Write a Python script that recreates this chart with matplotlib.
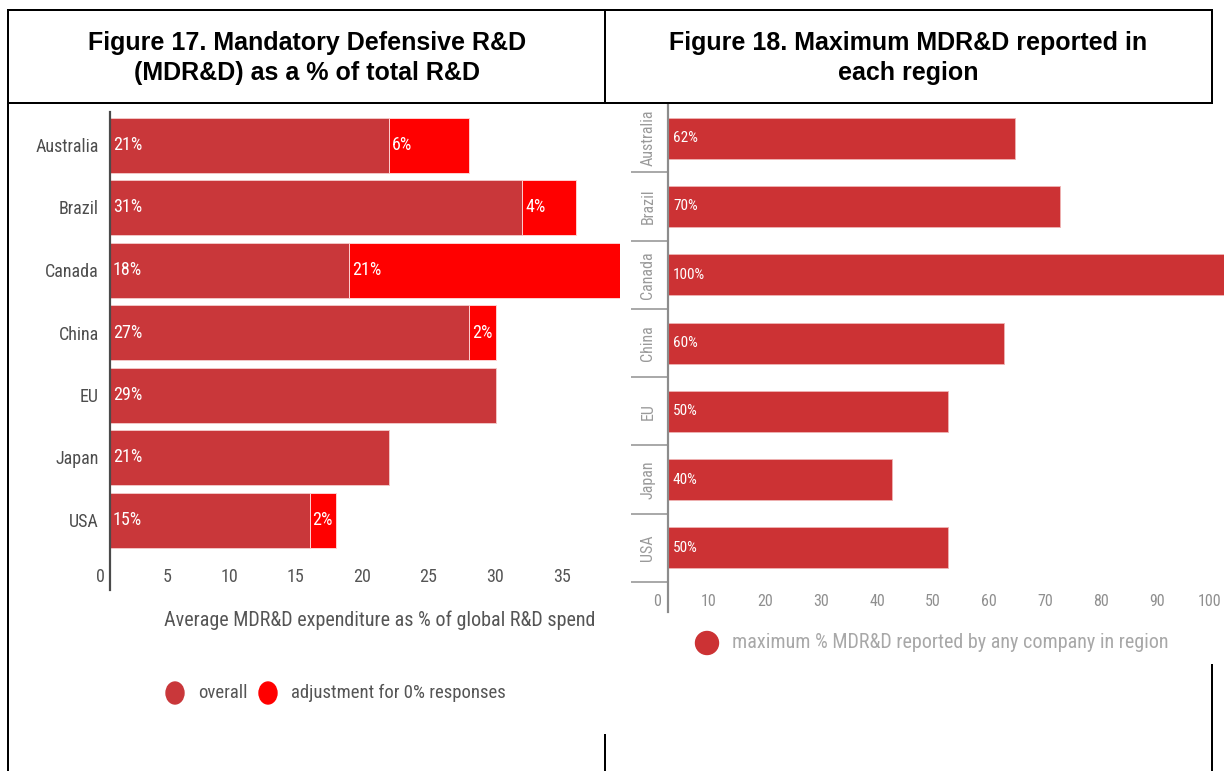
import matplotlib
matplotlib.use("Agg")
import matplotlib.pyplot as plt
from matplotlib import font_manager
from matplotlib.patches import Ellipse, Rectangle
from matplotlib.transforms import ScaledTranslation, blended_transform_factory

# ---- data -------------------------------------------------------------
regions = ["Australia", "Brazil", "Canada", "China", "EU", "Japan", "USA"]
overall_pct = [21, 31, 18, 27, 29, 21, 15]
zero_adjust_pct = [6, 4, 21, 2, 0, 0, 2]
max_reported_pct = [62, 70, 100, 60, 50, 40, 50]
avg_ticks = [0, 5, 10, 15, 20, 25, 30, 35, 40]
max_ticks = [0, 10, 20, 30, 40, 50, 60, 70, 80, 90, 100]

title_17 = ["Figure 17. Mandatory Defensive R&D", "(MDR&D) as a % of total R&D"]
title_18 = ["Figure 18. Maximum MDR&D reported in", "each region"]
avg_xlabel = "Average MDR&D expenditure as % of global R&D spend"
legend_17 = ["overall", "adjustment for 0% responses"]
legend_18 = "maximum % MDR&D reported by any company in region"

# ---- fonts / colours --------------------------------------------------
installed = {f.name for f in font_manager.fontManager.ttflist}


def pick(*names):
    for n in names:
        if n in installed:
            return n
    return "DejaVu Sans"


NARROW = pick("Roboto Condensed", "Liberation Sans Narrow", "Roboto")
HEAD = pick("Liberation Sans", "Arial")

DARK = "#c9373a"
BRIGHT = "#ff0000"
MAXRED = "#cc3234"

W, H, DPI = 1224, 771, 100
fig = plt.figure(figsize=(W / DPI, H / DPI), dpi=DPI)


def px_rect(x0, y0, x1, y1):
    return [x0 / W, 1 - y1 / H, (x1 - x0) / W, (y1 - y0) / H]


def pt(v):
    return v * 72 / DPI


ypos = list(range(len(regions)))

# ---- Figure 17: stacked horizontal bars -------------------------------
scale_l = 13.3  # pixels per percentage point
axL = fig.add_axes(px_rect(110, 112, 620, 590))
axL.set_xlim(0, (620 - 110) / scale_l)
axL.set_ylim(6 + (590 - 520) / 62.5, -(145 - 112) / 62.5)
axL.barh(ypos, overall_pct, height=0.88, color=DARK,
         edgecolor="#f2c6c6", linewidth=0.7)
adj_idx = [i for i in ypos if zero_adjust_pct[i] > 0]
axL.barh([ypos[i] for i in adj_idx], [zero_adjust_pct[i] for i in adj_idx],
         left=[overall_pct[i] for i in adj_idx], height=0.88, color=BRIGHT,
         edgecolor="#ffd0d0", linewidth=0.7)

for s in ("top", "right", "bottom"):
    axL.spines[s].set_visible(False)
axL.spines["left"].set_color("#4a4a4a")
axL.spines["left"].set_linewidth(pt(2.2))
axL.set_yticks(ypos, regions)
axL.set_xticks([])
axL.tick_params(axis="y", length=0, pad=pt(11), labelsize=13,
                labelcolor="#4d4d4d")
for lab in axL.get_yticklabels():
    lab.set_family(NARROW)

shift_l = ScaledTranslation(3 / DPI, 0, fig.dpi_scale_trans)
for i in ypos:
    axL.text(0, i, f"{overall_pct[i]}%", transform=axL.transData + shift_l,
             ha="left", va="center", color="white", fontsize=13,
             family=NARROW)
    if zero_adjust_pct[i] > 0:
        axL.text(overall_pct[i], i, f"{zero_adjust_pct[i]}%",
                 transform=axL.transData + shift_l, ha="left", va="center",
                 color="white", fontsize=13, family=NARROW, clip_on=True)

tick_tr_l = blended_transform_factory(axL.transData, axL.transAxes) + \
    ScaledTranslation(-5 / DPI, 0, fig.dpi_scale_trans)
for v in avg_ticks:
    axL.text(v, (590 - 577) / 478, str(v), transform=tick_tr_l, ha="right",
             va="center", color="#555555", fontsize=13, family=NARROW,
             clip_on=(v > axL.get_xlim()[1]))

# ---- Figure 18: single horizontal bars --------------------------------
axR = fig.add_axes(px_rect(668, 104, 1228, 612))
axR.set_xlim(0, 100)
axR.set_ylim(6.5 + (612 - 582) / 68.4, -0.5)
axR.barh(ypos, max_reported_pct, height=0.6, color=MAXRED,
         edgecolor="#efb4b4", linewidth=0.6)
for s in ("top", "right", "bottom"):
    axR.spines[s].set_visible(False)
axR.spines["left"].set_color("#8c8c8c")
axR.spines["left"].set_linewidth(pt(2.2))
axR.set_xticks([])
axR.set_yticks([])

shift_r = ScaledTranslation(5 / DPI, 0, fig.dpi_scale_trans)
for i in ypos:
    axR.text(0, i, f"{max_reported_pct[i]}%", transform=axR.transData + shift_r,
             ha="left", va="center", color="white", fontsize=11,
             family=NARROW)

lab_tr_r = blended_transform_factory(axR.transAxes, axR.transData)
for i in ypos:
    axR.text((648 - 668) / 560, i, regions[i], transform=lab_tr_r,
             rotation=90, ha="center", va="center", color="#9a9a9a",
             fontsize=11.5, family=NARROW, clip_on=False)
    axR.plot([(631 - 668) / 560, 0], [i + 0.5, i + 0.5], transform=lab_tr_r,
             color="#aaaaaa", lw=pt(2), clip_on=False, solid_capstyle="butt")

tick_tr_r = blended_transform_factory(axR.transData, axR.transAxes) + \
    ScaledTranslation(-7 / DPI, 0, fig.dpi_scale_trans)
for v in max_ticks:
    axR.text(v, (612 - 602) / 508, str(v), transform=tick_tr_r, ha="right",
             va="center", color="#8f8f8f", fontsize=11.5, family=NARROW,
             clip_on=False)

# ---- page furniture: header boxes, borders, axis label, legends -------
ov = fig.add_axes([0, 0, 1, 1], zorder=10)
ov.set_xlim(0, W)
ov.set_ylim(H, 0)
ov.axis("off")
ov.patch.set_alpha(0)

ov.add_patch(Rectangle((8, 10), 1204, 93, facecolor="white", edgecolor="none"))
lw = pt(2)
segments = [((8, 1212), (10, 10)), ((8, 1212), (103, 103)),
            ((8, 8), (10, 771)), ((605, 605), (10, 103)),
            ((1212, 1212), (10, 103)), ((605, 605), (735, 771)),
            ((1212, 1212), (665, 771))]
for xs, ys in segments:
    ov.plot(xs, ys, color="black", lw=lw, solid_capstyle="projecting")

for k, line in enumerate(title_17):
    ov.text(307, 43 + 30 * k, line, ha="center", va="center", fontsize=18,
            fontweight="bold", family=HEAD, color="black")
for k, line in enumerate(title_18):
    ov.text(908, 43 + 30 * k, line, ha="center", va="center", fontsize=18,
            fontweight="bold", family=HEAD, color="black")

ov.text(380, 620, avg_xlabel, ha="center", va="center", fontsize=14.5,
        family=NARROW, color="#555555")

ov.add_patch(Ellipse((175, 693), 18, 22, color=DARK))
ov.add_patch(Ellipse((268, 693), 18, 22, color=BRIGHT))
ov.text(198, 693, legend_17[0], ha="left", va="center", fontsize=13.5,
        family=NARROW, color="#555555")
ov.text(291, 693, legend_17[1], ha="left", va="center", fontsize=13.5,
        family=NARROW, color="#555555")

ov.add_patch(Ellipse((707, 643), 23, 23, color=MAXRED))
ov.text(732, 643, legend_18, ha="left", va="center", fontsize=14.5,
        family=NARROW, color="#a8a8a8")

fig.savefig("out.png", dpi=DPI)
